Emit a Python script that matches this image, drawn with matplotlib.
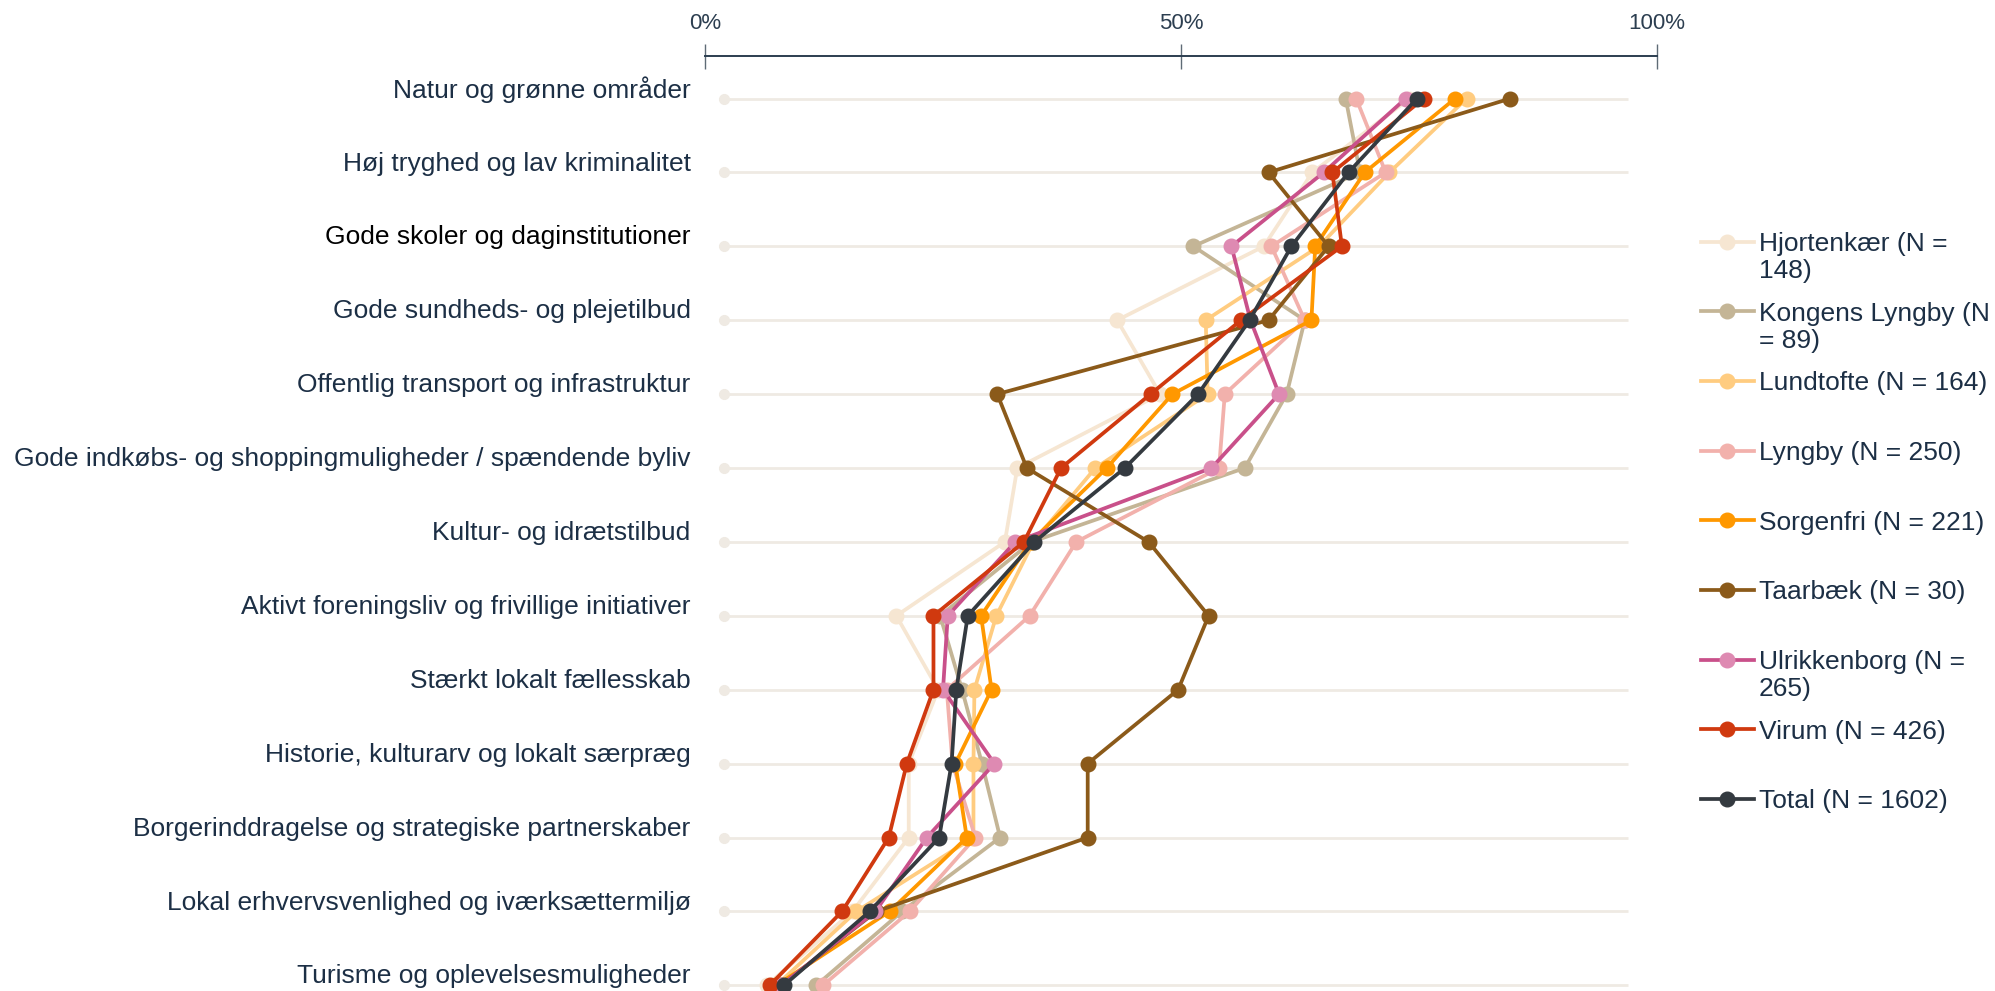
import matplotlib
matplotlib.use('Agg')
import matplotlib.pyplot as plt
import numpy as np

plt.rcParams['font.family'] = ['Liberation Sans', 'DejaVu Sans']

#%% data (share of respondents, %)
categories = [
    'Natur og grønne områder',
    'Høj tryghed og lav kriminalitet',
    'Gode skoler og daginstitutioner',
    'Gode sundheds- og plejetilbud',
    'Offentlig transport og infrastruktur',
    'Gode indkøbs- og shoppingmuligheder / spændende byliv',
    'Kultur- og idrætstilbud',
    'Aktivt foreningsliv og frivillige initiativer',
    'Stærkt lokalt fællesskab',
    'Historie, kulturarv og lokalt særpræg',
    'Borgerinddragelse og strategiske partnerskaber',
    'Lokal erhvervsvenlighed og iværksættermiljø',
    'Turisme og oplevelsesmuligheder',
]

hjortenkaer = [74.0, 63.8, 58.7, 43.3, 47.8, 32.8, 31.5, 20.1, 24.5, 21.4, 21.4, 15.5, 6.5]
kongens_lyngby = [67.3, 68.8, 51.3, 63.0, 61.1, 56.7, 34.3, 24.7, 27.0, 29.1, 31.0, 20.7, 11.7]
lundtofte = [80.0, 71.9, 64.5, 52.6, 52.8, 41.0, 34.5, 30.6, 28.3, 28.2, 28.2, 15.9, 7.5]
lyngby = [68.4, 71.5, 59.5, 63.0, 54.6, 54.0, 39.0, 34.1, 25.4, 26.0, 28.4, 21.5, 12.4]
sorgenfri = [78.8, 69.3, 64.1, 63.7, 49.1, 42.2, 34.2, 29.0, 30.1, 26.3, 27.5, 19.4, 7.5]
taarbaek = [84.6, 59.2, 65.5, 59.2, 30.7, 33.8, 46.6, 52.9, 49.7, 40.2, 40.2, 18.0, 8.0]
ulrikkenborg = [73.6, 65.0, 55.3, 57.3, 60.3, 53.2, 32.6, 25.5, 25.0, 30.4, 23.3, 17.9, 8.0]
virum = [75.5, 65.9, 66.9, 56.3, 46.8, 37.4, 33.5, 24.0, 24.0, 21.2, 19.3, 14.4, 6.8]
total = [74.8, 67.6, 61.6, 57.2, 51.8, 44.1, 34.6, 27.6, 26.4, 25.9, 24.6, 17.3, 8.3]

series_names = ['Hjortenkær (N = 148)', 'Kongens Lyngby (N = 89)', 'Lundtofte (N = 164)',
                'Lyngby (N = 250)', 'Sorgenfri (N = 221)', 'Taarbæk (N = 30)',
                'Ulrikkenborg (N = 265)', 'Virum (N = 426)', 'Total (N = 1602)']
# legend text as wrapped in the original (first line, continuation)
legend_lines = [('Hjortenkær (N =', '148)'), ('Kongens Lyngby (N', '= 89)'),
                ('Lundtofte (N = 164)', ''), ('Lyngby (N = 250)', ''),
                ('Sorgenfri (N = 221)', ''), ('Taarbæk (N = 30)', ''),
                ('Ulrikkenborg (N =', '265)'), ('Virum (N = 426)', ''),
                ('Total (N = 1602)', '')]
series = [hjortenkaer, kongens_lyngby, lundtofte, lyngby, sorgenfri,
          taarbaek, ulrikkenborg, virum, total]

line_colors = ['#F6E6D2', '#C4B596', '#FFCC80', '#F2B1AC', '#FF9800',
               '#8B5A1A', '#C9508A', '#D0390F', '#343A40']
marker_colors = ['#F6E6D2', '#C4B596', '#FFCC80', '#F2B1AC', '#FF9800',
                 '#8B5A1A', '#DE8AB2', '#D0390F', '#343A40']

bg_start, bg_end = 2, 97
x_ticks = [0, 50, 100]

txt_col = '#1C2F45'

#%%
W, H = 1995, 991
fig = plt.figure(figsize=(W / 100, H / 100), dpi=100)
ax = fig.add_axes([0, 0, 1, 1])

px_per_pct = 9.52
x0 = -705 / px_per_pct
ax.set_xlim(x0, x0 + W / px_per_pct)
row_px = 73.9
y0 = -98.5 / row_px
ax.set_ylim(y0 + H / row_px, y0)

rows = np.arange(len(categories))

# background tracks
for r in rows:
    ax.plot([bg_start, bg_end], [r, r], color='#EFEAE3', lw=2, zorder=1,
            solid_capstyle='butt')
    ax.plot([bg_start], [r], 'o', color='#EFEAE3', ms=7, zorder=1)

handles = []
for vals, lc, mc in zip(series, line_colors, marker_colors):
    h, = ax.plot(vals, rows, '-o', color=lc, lw=2.7, ms=10.5,
                 markerfacecolor=mc, markeredgecolor=mc, zorder=3)
    handles.append(h)

for r, c in zip(rows, categories):
    col = 'black' if c.startswith('Gode skoler') else txt_col
    ax.text(-1.5, r - 0.12, c, ha='right', va='center', fontsize=19, color=col)

# top axis
for s in ['left', 'right', 'bottom']:
    ax.spines[s].set_visible(False)
ax.spines['top'].set_position(('data', y0 + 56 / row_px))
ax.spines['top'].set_bounds(0, 100)
ax.spines['top'].set_color('#2C3E50')
ax.spines['top'].set_linewidth(1.4)
ax.xaxis.tick_top()
ax.set_xticks(x_ticks)
ax.set_xticklabels([f'{t}%' for t in x_ticks])
ax.tick_params(axis='x', direction='inout', length=18, width=1, color='#5F6B76',
               labelsize=16, labelcolor='#2C3E50', pad=7)
ax.set_yticks([])

leg = ax.legend(handles, [l[0] for l in legend_lines], loc='upper left',
                bbox_to_anchor=(1701 / W, 1 - 232 / H), bbox_transform=fig.transFigure,
                frameon=False, fontsize=19, handlelength=2.0, handletextpad=0.2,
                labelspacing=1.73, borderpad=0, borderaxespad=0, labelcolor=txt_col)
for t, (first, cont) in zip(leg.get_texts(), legend_lines):
    if cont:
        ax.annotate(cont, xy=(0, 0), xycoords=t, xytext=(0, -2.5), textcoords='offset points',
                    ha='left', va='top', fontsize=19, color=txt_col, zorder=6)

fig.savefig('out.png', dpi=100)
